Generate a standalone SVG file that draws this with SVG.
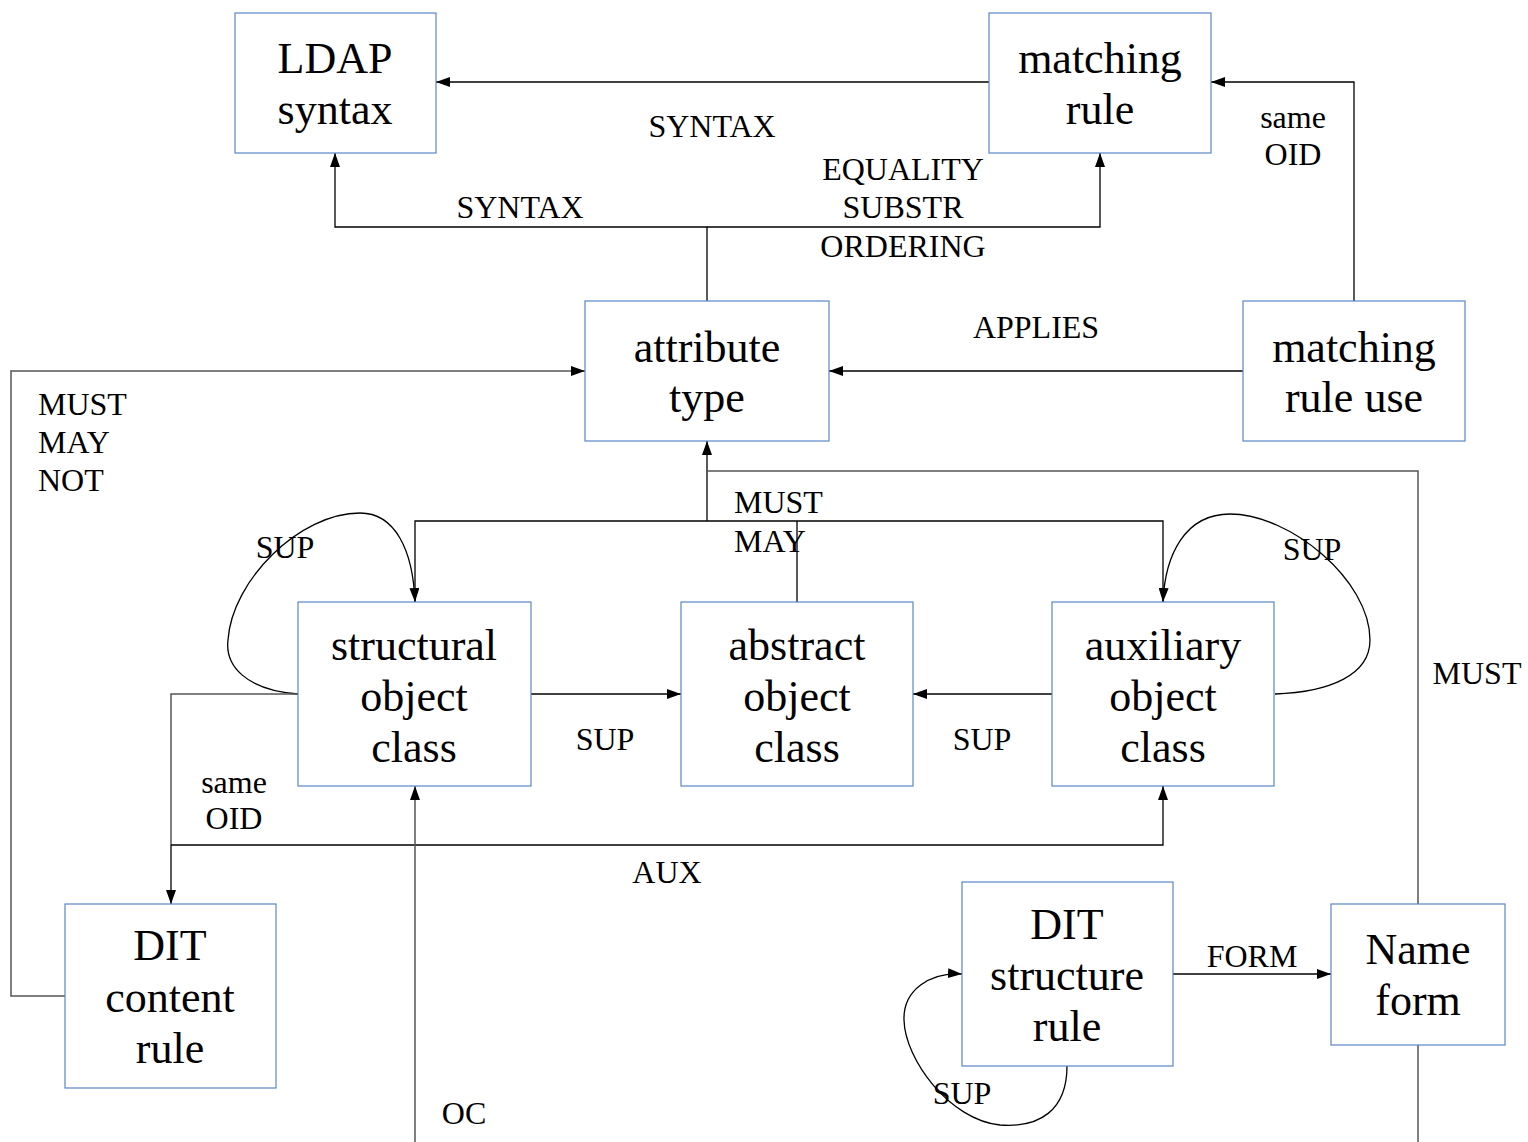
<svg xmlns="http://www.w3.org/2000/svg" width="1528" height="1142" viewBox="0 0 1528 1142">
<style>
.box{fill:#fff;stroke:#5a86c8;stroke-width:1.2}
.n{font-family:"Liberation Serif","Times New Roman",serif;font-size:44px;fill:#000;text-anchor:middle}
.l{font-family:"Liberation Serif","Times New Roman",serif;font-size:32px;fill:#000;text-anchor:middle}
.ll{font-family:"Liberation Serif","Times New Roman",serif;font-size:32px;fill:#000}
.c{fill:none;stroke:#000;stroke-width:1.3}
.g{fill:none;stroke:#555;stroke-width:1.5}
</style>
<defs>
<marker id="a" viewBox="0 0 14 10" refX="14" refY="5" markerWidth="14" markerHeight="10" markerUnits="userSpaceOnUse" orient="auto"><path d="M0,0 L14,5 L0,10 z" fill="#000"/></marker>
</defs>
<rect width="1528" height="1142" fill="#fff"/>
<g id="connectors">
<path class="c" d="M989,82 H436" marker-end="url(#a)"/>
<path class="c" d="M707,301 V227 H335 V153" marker-end="url(#a)"/>
<path class="c" d="M707,227 H1100 V153" marker-end="url(#a)"/>
<path class="c" d="M1354,301 V82 H1211" marker-end="url(#a)"/>
<path class="c" d="M1243,371 H829" marker-end="url(#a)"/>
<path class="g" d="M65,996 H11 V371 H585" marker-end="url(#a)"/>
<path class="c" d="M415,602 V521 H1163 V602"/>
<path class="c" d="M797,602 V521"/>
<path class="c" d="M707,521 V441" marker-end="url(#a)"/>
<path class="g" d="M1418,904 V471 H707"/>
<path class="g" d="M1418,1045 V1142"/>
<path class="c" d="M298,694 C245,690 225,665 228,640 C232,580 300,513 360,513 C395,513 413,550 415,602" marker-end="url(#a)"/>
<path class="c" d="M1275,694 C1330,692 1370,675 1370,640 C1370,580 1290,514 1230,514 C1185,514 1165,555 1163,602" marker-end="url(#a)"/>
<path class="c" d="M531,694 H681" marker-end="url(#a)"/>
<path class="c" d="M1052,694 H913" marker-end="url(#a)"/>
<path class="g" d="M298,694 H171 V845"/>
<path class="c" d="M171,845 V904" marker-end="url(#a)"/>
<path class="c" d="M171,845 H1163 V786" marker-end="url(#a)"/>
<path class="g" d="M415,1142 V786" marker-end="url(#a)"/>
<path class="c" d="M1173,974 H1331" marker-end="url(#a)"/>
<path class="c" d="M1067,1066 C1067,1110 1040,1128 1000,1125 C950,1120 905,1060 904,1020 C903,990 930,972 962,974" marker-end="url(#a)"/>
</g>
<g id="labels">
<text class="l" x="712" y="137">SYNTAX</text>
<text class="l" x="520" y="218">SYNTAX</text>
<text class="l" x="903" y="180">EQUALITY</text>
<text class="l" x="903" y="218">SUBSTR</text>
<text class="l" x="903" y="257">ORDERING</text>
<text class="l" x="1293" y="128">same</text>
<text class="l" x="1293" y="165">OID</text>
<text class="l" x="1036" y="338">APPLIES</text>
<text class="ll" x="38" y="415">MUST</text>
<text class="ll" x="38" y="453">MAY</text>
<text class="ll" x="38" y="491">NOT</text>
<text class="ll" x="734" y="513">MUST</text>
<text class="ll" x="734" y="552">MAY</text>
<text class="l" x="285" y="558">SUP</text>
<text class="l" x="1312" y="560">SUP</text>
<text class="l" x="1477" y="684">MUST</text>
<text class="l" x="605" y="750">SUP</text>
<text class="l" x="982" y="750">SUP</text>
<text class="l" x="234" y="793">same</text>
<text class="l" x="234" y="829">OID</text>
<text class="l" x="667" y="883">AUX</text>
<text class="l" x="1252" y="967">FORM</text>
<text class="l" x="962" y="1104">SUP</text>
<text class="l" x="464" y="1124">OC</text>
</g>
<g id="ldap-syntax"><rect class="box" x="235" y="13" width="201" height="140"/><text class="n" x="335" y="73">LDAP</text><text class="n" x="335" y="124">syntax</text></g>
<g id="matching-rule"><rect class="box" x="989" y="13" width="222" height="140"/><text class="n" x="1100" y="73">matching</text><text class="n" x="1100" y="124">rule</text></g>
<g id="attribute-type"><rect class="box" x="585" y="301" width="244" height="140"/><text class="n" x="707" y="362">attribute</text><text class="n" x="707" y="412">type</text></g>
<g id="matching-rule-use"><rect class="box" x="1243" y="301" width="222" height="140"/><text class="n" x="1354" y="362">matching</text><text class="n" x="1354" y="412">rule use</text></g>
<g id="structural-object-class"><rect class="box" x="298" y="602" width="233" height="184"/><text class="n" x="414" y="660">structural</text><text class="n" x="414" y="711">object</text><text class="n" x="414" y="762">class</text></g>
<g id="abstract-object-class"><rect class="box" x="681" y="602" width="232" height="184"/><text class="n" x="797" y="660">abstract</text><text class="n" x="797" y="711">object</text><text class="n" x="797" y="762">class</text></g>
<g id="auxiliary-object-class"><rect class="box" x="1052" y="602" width="222" height="184"/><text class="n" x="1163" y="660">auxiliary</text><text class="n" x="1163" y="711">object</text><text class="n" x="1163" y="762">class</text></g>
<g id="dit-content-rule"><rect class="box" x="65" y="904" width="211" height="184"/><text class="n" x="170" y="960">DIT</text><text class="n" x="170" y="1012">content</text><text class="n" x="170" y="1063">rule</text></g>
<g id="dit-structure-rule"><rect class="box" x="962" y="882" width="211" height="184"/><text class="n" x="1067" y="939">DIT</text><text class="n" x="1067" y="990">structure</text><text class="n" x="1067" y="1041">rule</text></g>
<g id="name-form"><rect class="box" x="1331" y="904" width="174" height="141"/><text class="n" x="1418" y="964">Name</text><text class="n" x="1418" y="1015">form</text></g>
</svg>
